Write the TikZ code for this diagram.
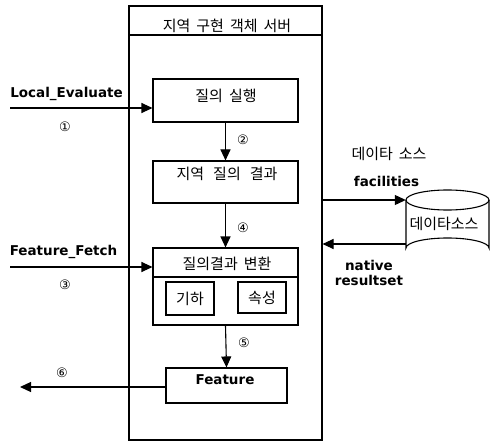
\documentclass[tikz,border=0pt]{standalone}
\usepackage{fontspec}
\setmainfont{DejaVu Sans}
\newfontfamily\kr{Noto Sans CJK KR}
\usetikzlibrary{arrows.meta}
\newcommand{\wsp}{\hspace{6pt}}
\begin{document}
\begin{tikzpicture}[x=1pt,y=-1pt,
  box/.style={draw, line width=1.1pt, inner sep=0pt},
  lat/.style={font=\bfseries\fontsize{13.5}{15}\selectfont, inner sep=0pt},
  hangul/.style={font=\kr\fontsize{15}{16}\selectfont, inner sep=0pt},
  num/.style={font=\fontsize{13}{14}\selectfont, inner sep=0pt},
  flow/.style={line width=1.1pt, -{Triangle[length=11pt,width=10pt]}}]
\useasboundingbox (0,0) rectangle (490,441);

% server frame with its title row
\node[box, minimum width=193, minimum height=434] (srv) at (225.5,223) {};
\draw[line width=1.1pt] (129,35) -- (322,35);
\node[hangul] (title) at (227,26) {지역\wsp 구현\wsp 객체\wsp 서버};

% processing stages
\node[box, minimum width=145, minimum height=43] (q1) at (225.5,100.5) {};
\node[hangul] (q1t) at (226,96) {질의\wsp 실행};
\node[box, minimum width=145, minimum height=42] (q2) at (225.5,182) {};
\node[hangul] (q2t) at (227,174) {지역\hspace{9pt}질의\hspace{9pt}결과};
\node[box, minimum width=145, minimum height=77] (q3) at (225.5,286.5) {};
\draw[line width=1.1pt] (153,277) -- (298,277);
\node[hangul] (q3t) at (227,264) {질의결과\wsp 변환};
\node[box, minimum width=48, minimum height=33, hangul] (geo) at (190,298.5) {기하};
\node[box, minimum width=48, minimum height=31, hangul] (attr) at (262,297.5) {속성};
\node[box, minimum width=121, minimum height=35] (feat) at (226.5,385.5) {};
\node[lat] (featt) at (225,380) {Feature};

% data source cylinder
\draw[line width=1.1pt] (406,200) -- (406,248) arc[start angle=180,end angle=360,x radius=41.5,y radius=10] -- (489,200);
\draw[line width=1.1pt] (447.5,200) ellipse[x radius=41.5,y radius=10];
\node[minimum width=83, minimum height=58, inner sep=0pt] (db) at (447.5,229) {};
\node[hangul] (dbt) at (444,224) {데이타소스};

% free ends of the outer connectors
\coordinate (inA) at (10,108);
\coordinate (inB) at (10,267);
\coordinate (outF) at (20,387);

% connectors
\draw[flow] (inA) -- (q1.west |- inA);
\draw[flow] (q1.south) -- (q2.north);
\draw[flow] (q2.south) -- (q3.north);
\draw[flow] (inB) -- (q3.west |- inB);
\draw[flow] (q3.south) -- (feat.north);
\draw[flow] (feat.west |- outF) -- (outF);
\draw[flow] (srv.east |- 0,200) -- (db.west |- 0,200);
\draw[flow] (db.west |- 0,244) -- (srv.east |- 0,244);

% labels
\node[lat] (lLE) at (66.5,94) {Local\_Evaluate};
\node[num] (n1) at (65,127) {①};
\node[num] (n2) at (243,140) {②};
\node[num] (n4) at (243,228) {④};
\node[lat] (lFF) at (63.5,252) {Feature\_Fetch};
\node[num] (n3) at (65,285) {③};
\node[num] (n5) at (244,343) {⑤};
\node[num] (n6) at (62,373) {⑥};
\node[hangul] (lDS) at (389,154) {데이타\wsp 소스};
\node[lat] (lfac) at (386.5,181) {facilities};
\node[lat, align=center] (lnat) at (369,273) {native\\[0pt]resultset};
\end{tikzpicture}
\end{document}
